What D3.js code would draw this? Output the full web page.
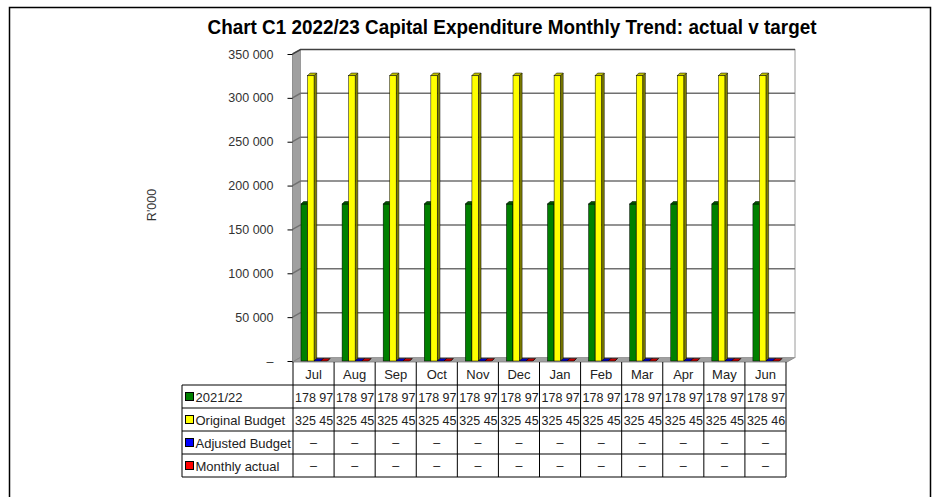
<!DOCTYPE html>
<html>
<head>
<meta charset="utf-8">
<script src="https://cdnjs.cloudflare.com/ajax/libs/d3/7.8.5/d3.min.js"></script>
<style>
  body { margin: 0; background: #fff; }
  svg text { font-family: "Liberation Sans", Arial, sans-serif; fill: #222; }
</style>
</head>
<body>
<div id="chart"></div>
<script>
// chart values
var months = ["Jul", "Aug", "Sep", "Oct", "Nov", "Dec", "Jan", "Feb", "Mar", "Apr", "May", "Jun"];
var actual2122 = [178970, 178970, 178970, 178970, 178970, 178970, 178970, 178970, 178970, 178970, 178970, 178970];
var originalBudget = [325450, 325450, 325450, 325450, 325450, 325450, 325450, 325450, 325450, 325450, 325450, 325460];
var adjustedBudget = [null, null, null, null, null, null, null, null, null, null, null, null];
var monthlyActual = [null, null, null, null, null, null, null, null, null, null, null, null];
var yTicks = [0, 50000, 100000, 150000, 200000, 250000, 300000, 350000];

var series = [
  { name: "2021/22", values: actual2122, front: "#008000", side: "#004000", top: "#005800" },
  { name: "Original Budget", values: originalBudget, front: "#ffff00", side: "#808000", top: "#c0c000" },
  { name: "Adjusted Budget", values: adjustedBudget, front: "#0000ff", side: "#000080", top: "#0000c0" },
  { name: "Monthly actual", values: monthlyActual, front: "#ff0000", side: "#800000", top: "#c00000" }
];

var width = 940, height = 497;
var left = 292.5, right = 787,
    wallDx = 8, wallDy = -4.5,
    barDx = 2.5, barDy = -2.5;

var svg = d3.select("#chart").append("svg")
  .attr("width", width)
  .attr("height", height);

// outer frame
svg.append("rect")
  .attr("x", 9.5).attr("y", 7.5)
  .attr("width", 921).attr("height", 500)
  .attr("fill", "none").attr("stroke", "#000").attr("stroke-width", 1.5);

// title, squeezed to look like a narrow bold face
svg.append("text")
  .attr("x", 512).attr("y", 33.5)
  .attr("text-anchor", "middle")
  .attr("textLength", 609)
  .attr("lengthAdjust", "spacingAndGlyphs")
  .style("font-family", "'Liberation Sans Narrow', 'Arial Narrow', 'Liberation Sans', sans-serif")
  .style("font-size", "21px")
  .style("font-weight", "bold")
  .style("fill", "#000")
  .text("Chart C1 2022/23  Capital Expenditure Monthly Trend: actual v target");

var x = d3.scaleBand().domain(months).range([293, 786]);
var y = d3.scaleLinear().domain([0, 350000]).range([361, 54]);
var xs = d3.scaleBand().domain(series.map(function(s) { return s.name; }))
  .range([8, 34.4]);

var yTop = y(350000), yBot = y(0) + 1;

// left wall
svg.append("polygon")
  .attr("points", [[left, yTop], [left + wallDx, yTop + wallDy], [left + wallDx, yBot + wallDy], [left, yBot]].join(" "))
  .attr("fill", "#a0a0a0").attr("stroke", "#808080").attr("stroke-width", 0.8);

// floor
svg.append("polygon")
  .attr("points", [[left, yBot], [left + wallDx, yBot + wallDy], [right + wallDx, yBot + wallDy], [right, yBot]].join(" "))
  .attr("fill", "#a0a0a0").attr("stroke", "#808080").attr("stroke-width", 0.8);

// back wall
svg.append("rect")
  .attr("x", left + wallDx).attr("y", yTop + wallDy)
  .attr("width", right - left).attr("height", yBot - yTop)
  .attr("fill", "#fff").attr("stroke", "#9a9a9a").attr("stroke-width", 1);

// gridlines
svg.append("g").selectAll("path")
  .data(yTicks.filter(function(d) { return d > 0; }))
  .join("path")
  .attr("d", function(d) {
    var yy = y(d);
    return "M" + left + "," + yy + "L" + (left + wallDx) + "," + (yy + wallDy) + "L" + (right + wallDx) + "," + (yy + wallDy);
  })
  .attr("fill", "none")
  .attr("stroke", function(d) { return d === 350000 ? "#404040" : "#707070"; })
  .attr("stroke-width", 1.5);

// y axis
var yAxis = svg.append("g")
  .attr("transform", "translate(" + left + ",0)")
  .call(d3.axisLeft(y).tickValues(yTicks).tickSize(5).tickPadding(14)
    .tickFormat(function(d) { return d === 0 ? "–" : d3.format(",")(d).replace(/,/g, " "); }));
yAxis.select(".domain").remove();
yAxis.selectAll("line").attr("stroke", "#000");
yAxis.selectAll("text").style("font-size", "12.5px").style("fill", "#333").style("font-family", "'Liberation Sans', Arial, sans-serif");

svg.append("text")
  .attr("transform", "translate(156,205) rotate(-90)")
  .attr("text-anchor", "middle")
  .style("font-size", "12.5px").style("fill", "#333")
  .text("R'000");

// bars
function box(g, x0, w, yt, yb, s) {
  g.append("rect").attr("x", x0).attr("y", yt).attr("width", w).attr("height", Math.max(0, yb - yt))
    .attr("fill", s.front).attr("stroke", "#000").attr("stroke-width", 0.5);
  g.append("polygon")
    .attr("points", [[x0 + w, yt], [x0 + w + barDx, yt + barDy], [x0 + w + barDx, yb + barDy], [x0 + w, yb]].join(" "))
    .attr("fill", s.side).attr("stroke", "#000").attr("stroke-width", 0.5);
  g.append("polygon")
    .attr("points", [[x0, yt], [x0 + barDx, yt + barDy], [x0 + w + barDx, yt + barDy], [x0 + w, yt]].join(" "))
    .attr("fill", s.top).attr("stroke", "#000").attr("stroke-width", 0.5);
}

var bars = svg.append("g");
months.forEach(function(m, i) {
  series.forEach(function(s) {
    var v = s.values[i] || 0;
    box(bars, x(m) + xs(s.name), xs.bandwidth(), y(v), y(0), s);
  });
});

// data table
var rowTop = 385, rowH = 23, headTop = 362, tableLeft = 182;
var tbl = svg.append("g");
var lineCol = "#000";

// header row
tbl.selectAll(".head")
  .data(months).join("text")
  .attr("x", function(d) { return x(d) + x.bandwidth() / 2; })
  .attr("y", headTop + 16.5)
  .attr("text-anchor", "middle")
  .style("font-size", "13px")
  .text(function(d) { return d; });

// horizontal lines
var hLines = d3.range(series.length + 1).map(function(i) { return rowTop + i * rowH; });
tbl.selectAll(".h").data(hLines).join("line")
  .attr("x1", tableLeft).attr("x2", 786)
  .attr("y1", function(d) { return d; }).attr("y2", function(d) { return d; })
  .attr("stroke", lineCol).attr("stroke-width", 1);

// vertical lines
var vLines = months.map(function(m) { return x(m); }).concat([786]);
tbl.selectAll(".v").data(vLines).join("line")
  .attr("x1", function(d) { return d; }).attr("x2", function(d) { return d; })
  .attr("y1", headTop).attr("y2", rowTop + series.length * rowH)
  .attr("stroke", lineCol).attr("stroke-width", 1);
tbl.append("line")
  .attr("x1", tableLeft).attr("x2", tableLeft)
  .attr("y1", rowTop).attr("y2", rowTop + series.length * rowH)
  .attr("stroke", lineCol).attr("stroke-width", 1);

var fmt = function(v) { return d3.format(",")(v).replace(/,/g, " "); };

series.forEach(function(s, r) {
  var ty = rowTop + r * rowH;
  tbl.append("rect")
    .attr("x", 185.5).attr("y", ty + 7.5).attr("width", 8).attr("height", 8)
    .attr("fill", s.front).attr("stroke", "#000").attr("stroke-width", 1);
  tbl.append("text")
    .attr("x", 195.5).attr("y", ty + 16.5)
    .style("font-size", "13px")
    .text(s.name);

  s.values.forEach(function(v, i) {
    var cx = x(months[i]);
    if (v == null) {
      tbl.append("text")
        .attr("x", cx + x.bandwidth() / 2).attr("y", ty + 16)
        .attr("text-anchor", "middle")
        .style("font-size", "12.5px")
        .text("–");
    } else {
      var t = tbl.append("text")
        .attr("x", cx + 2).attr("y", ty + 16.5)
        .style("font-size", "12.5px")
        .text(fmt(v));
      // cut the number like the spreadsheet does when it does not fit the cell
      var str = fmt(v);
      while (t.node().getComputedTextLength() > x.bandwidth() - 2 && str.length > 1) {
        str = str.slice(0, -1);
        t.text(str);
      }
    }
  });
});
</script>
</body>
</html>
